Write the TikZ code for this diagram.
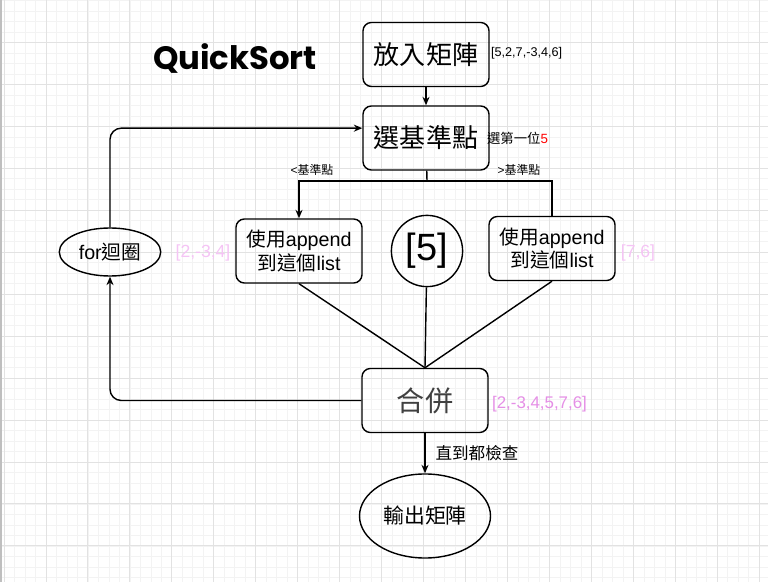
\documentclass[tikz,border=0pt]{standalone}
\usepackage{fontspec}
\setmainfont{Liberation Sans}
\newfontfamily\cjk{Noto Sans CJK TC}
\newfontfamily\titulofont{Poppins}
\usetikzlibrary{arrows.meta, shapes.geometric, positioning, calc}

\definecolor{rosa}{HTML}{E58FE6}
\definecolor{rosaclaro}{HTML}{F5C4F5}
\definecolor{rejilla}{HTML}{E2E2E2}
\definecolor{rejillafina}{HTML}{F3F3F3}

\newcommand{\zh}[1]{{\cjk #1}}

\begin{document}
\begin{tikzpicture}[
    x=0.025cm, y=-0.025cm,
    every path/.style={line width=1pt},
    >={Stealth[length=6pt, width=5pt]}
]
    \tikzset{
        paso/.style={rectangle, rounded corners=6pt, draw, line width=1pt,
            minimum width=3.15cm, minimum height=1.6cm, align=center},
        circulo/.style={circle, draw, line width=1pt, minimum size=1.78cm},
        bucle/.style={ellipse, draw, line width=1pt, minimum width=2.15cm,
            minimum height=1.2cm},
        nota/.style={font=\fontsize{9}{11}\selectfont, inner sep=1pt},
        lista/.style={font=\fontsize{12.5}{15}\selectfont, inner sep=1pt},
        flecha/.style={->}
    }

    % Fondo y rejilla
    \fill[white] (0,0) rectangle (768,582);
    \useasboundingbox (0,0) rectangle (768,582);
    \foreach \i in {0,...,73} {
        \draw[rejillafina, line width=0.5pt] ({4+10.49*\i},0) -- ({4+10.49*\i},582);
    }
    \foreach \i in {0,...,55} {
        \draw[rejillafina, line width=0.5pt] (0,{0.5+10.49*\i}) -- (768,{0.5+10.49*\i});
    }
    \foreach \i in {0,...,18} {
        \draw[rejilla, line width=0.6pt] ({4+41.95*\i},0) -- ({4+41.95*\i},582);
    }
    \foreach \i in {1,...,13} {
        \draw[rejilla, line width=0.6pt] (0,{0.5+41.95*\i}) -- (768,{0.5+41.95*\i});
    }
    \draw[black!25, line width=1.5pt] (1,0) -- (1,582);

    % Titulo
    \node (titulo) at (235,58) {\titulofont\bfseries\fontsize{23}{27}\selectfont QuickSort};

    % Nodos
    \node[paso, font=\fontsize{18.5}{22}\selectfont] (poner) at (426,54.5) {\zh{放入矩陣}};
    \node[paso, font=\fontsize{18.5}{22}\selectfont] (pivote) at (426,138) {\zh{選基準點}};
    \node[paso, font=\fontsize{14}{17}\selectfont] (izq) at (299,251) {\zh{使用}append\\\zh{到這個}list};
    \node[circulo, font=\fontsize{27}{30}\selectfont] (medio) at (427,251) {[5]};
    \node[paso, font=\fontsize{14}{17}\selectfont] (der) at (552,248.5) {\zh{使用}append\\\zh{到這個}list};
    \node[bucle, font=\fontsize{14}{16}\selectfont] (ciclo) at (110,252) {for\zh{迴圈}};
    \node[paso, font=\fontsize{20}{24}\selectfont, text=black!75] (unir) at (425,400.5) {\zh{合併}};
    \node[bucle, minimum width=3.15cm, minimum height=2.1cm,
          font=\fontsize{14.8}{17}\selectfont] (salida) at (425,516) {\zh{輸出矩陣}};

    % Notas
    \node[nota, anchor=west] (entrada) at (489,53) {[5,2,7,-3,4,6]};
    \node[nota, anchor=west, font=\fontsize{9.5}{11}\selectfont] (primero) at (485,138) {\zh{選第一位}\textcolor{red}{5}};
    \node[nota, font=\fontsize{8.5}{10}\selectfont] (menor) at (312,170) {<\zh{基準點}};
    \node[nota, font=\fontsize{8.5}{10}\selectfont] (mayor) at (519,170) {>\zh{基準點}};
    \node[lista, text=rosaclaro] (parteizq) at (203,253) {[2,-3,4]};
    \node[lista, text=rosaclaro] (parteder) at (638,253) {[7,6]};
    \node[lista, text=rosa, anchor=west, font=\fontsize{12}{14}\selectfont] (resultado) at (490,404) {[2,-3,4,5,7,6]};

    % Aristas
    \coordinate (rama) at (427,181);
    \draw[flecha] (poner) -- (pivote);
    \draw (pivote) -- (rama);
    \draw[flecha] (rama) -| (izq);
    \draw (rama) -| (der);
    \draw[flecha, rounded corners=8pt] (ciclo) |- ([yshift=7pt]pivote.west);
    \draw[flecha, rounded corners=8pt] (unir) -| (ciclo);
    \draw (izq.south) -- (unir.north);
    \draw (medio) -- (unir.north);
    \draw (der.south) -- (unir.north);
    \draw[flecha] (unir) -- node[nota, right=6pt, font=\fontsize{11.8}{14}\selectfont] {\zh{直到都檢查}} (salida);
\end{tikzpicture}
\end{document}
